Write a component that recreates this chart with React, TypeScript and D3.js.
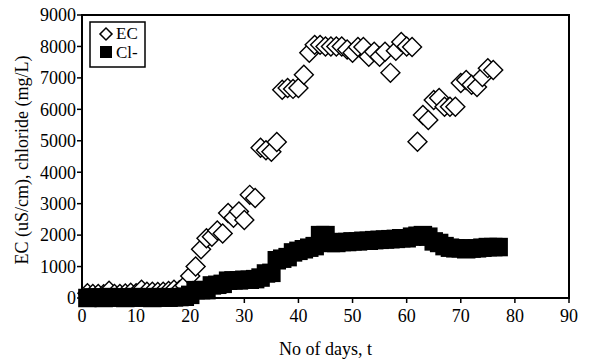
import React from "react";
import * as d3 from "d3";

const ecDays = Array.from({ length: 76 }, (_, i) => i + 1);
const ecValues = [
  150, 130, 130, 120, 230, 130, 130, 140, 170, 150,
  260, 200, 200, 190, 200, 220, 260, 250, 400, 700,
  1000, 1550, 1900, 1950, 2150, 2050, 2700, 2550, 2750, 2480,
  3280, 3180, 4780, 4700, 4650, 4960, 6620, 6680, 6650, 6680,
  7100, 7800, 8050, 8050, 8000, 8000, 8000, 8000, 7900, 7800,
  7980, 7980, 7670, 7830, 7670, 7830, 7160, 7860, 8140, 8000,
  7980, 4970, 5820, 5660, 6300, 6360, 6080, 6080, 6080, 6840,
  6930, 6780, 6710, 7030, 7310, 7250,
];

const clDays = Array.from({ length: 77 }, (_, i) => i + 1);
const clValues = [
  0, 20, 10, 0, 30, 20, 10, 0, 20, 30,
  10, 20, 0, 30, 20, 10, 20, 30, 40, 100,
  250, 250, 250, 400, 420, 450, 550, 560, 560, 580,
  580, 600, 650, 780, 800, 1200, 1250, 1300, 1450, 1500,
  1550, 1600, 1650, 2000, 2000, 1750, 1750, 1780, 1780, 1800,
  1800, 1820, 1820, 1840, 1850, 1860, 1870, 1880, 1900, 1900,
  1950, 1980, 2000, 1950, 1800, 1750, 1650, 1600, 1580, 1580,
  1550, 1570, 1580, 1600, 1620, 1620, 1620,
];

const xTicks = [0, 10, 20, 30, 40, 50, 60, 70, 80, 90];
const yTicks = [0, 1000, 2000, 3000, 4000, 5000, 6000, 7000, 8000, 9000];

const FONT = "'Liberation Serif', 'Times New Roman', serif";

export default function App() {
  const W = 593, H = 362;
  const x = d3.scaleLinear().domain([0, 90]).range([82, 569]);
  const y = d3.scaleLinear().domain([0, 9000]).range([298, 15]);

  const diamond = d3.symbol().type(d3.symbolSquare).size(180)();
  const square = d3.symbol().type(d3.symbolSquare).size(342)();
  const legDiamond = d3.symbol().type(d3.symbolSquare).size(72)();
  const legSquare = d3.symbol().type(d3.symbolSquare).size(144)();

  return (
    <svg width={W} height={H} style={{ position: "absolute", left: 0, top: 0, background: "#fff" }}>
      <rect x={0} y={0} width={W} height={H} fill="#fff" />
      {ecDays.map((d, i) => (
        <path
          key={"ec" + i}
          d={diamond}
          transform={`translate(${x(d)},${y(ecValues[i])}) rotate(45)`}
          fill="#fff"
          stroke="#000"
          strokeWidth={1.4}
        />
      ))}
      {clDays.map((d, i) => (
        <path key={"cl" + i} d={square} transform={`translate(${x(d)},${y(clValues[i])})`} fill="#000" />
      ))}
      <rect x={x(0)} y={y(9000)} width={x(90) - x(0)} height={y(0) - y(9000)} fill="none" stroke="#000" strokeWidth={2} />
      {yTicks.map((t) => (
        <g key={"yt" + t}>
          <line x1={x(0) - 5} x2={x(0)} y1={y(t)} y2={y(t)} stroke="#000" strokeWidth={1.5} />
          <text x={x(0) - 6} y={y(t)} dy="0.35em" textAnchor="end" fontFamily={FONT} fontSize={18} fill="#000">
            {t}
          </text>
        </g>
      ))}
      {xTicks.map((t) => (
        <g key={"xt" + t}>
          <line x1={x(t)} x2={x(t)} y1={y(0)} y2={y(0) + 5} stroke="#000" strokeWidth={1.5} />
          <text x={x(t)} y={y(0) + 24} textAnchor="middle" fontFamily={FONT} fontSize={18} fill="#000">
            {t}
          </text>
        </g>
      ))}
      <text x={(x(0) + x(90)) / 2} y={355} textAnchor="middle" fontFamily={FONT} fontSize={18} fill="#000">
        No of days, t
      </text>
      <text transform={`translate(28,160) rotate(-90)`} textAnchor="middle" fontFamily={FONT} fontSize={18} fill="#000">
        EC (uS/cm), chloride (mg/L)
      </text>
      <rect x={90} y={22} width={55} height={45} fill="#fff" stroke="#000" strokeWidth={1.5} />
      <path d={legDiamond} transform="translate(106,34) rotate(45)" fill="#fff" stroke="#000" strokeWidth={1.5} />
      <text x={116} y={39} fontFamily={FONT} fontSize={17} fill="#000">EC</text>
      <path d={legSquare} transform="translate(106,52)" fill="#000" />
      <text x={116} y={58} fontFamily={FONT} fontSize={17} fill="#000">Cl-</text>
    </svg>
  );
}
